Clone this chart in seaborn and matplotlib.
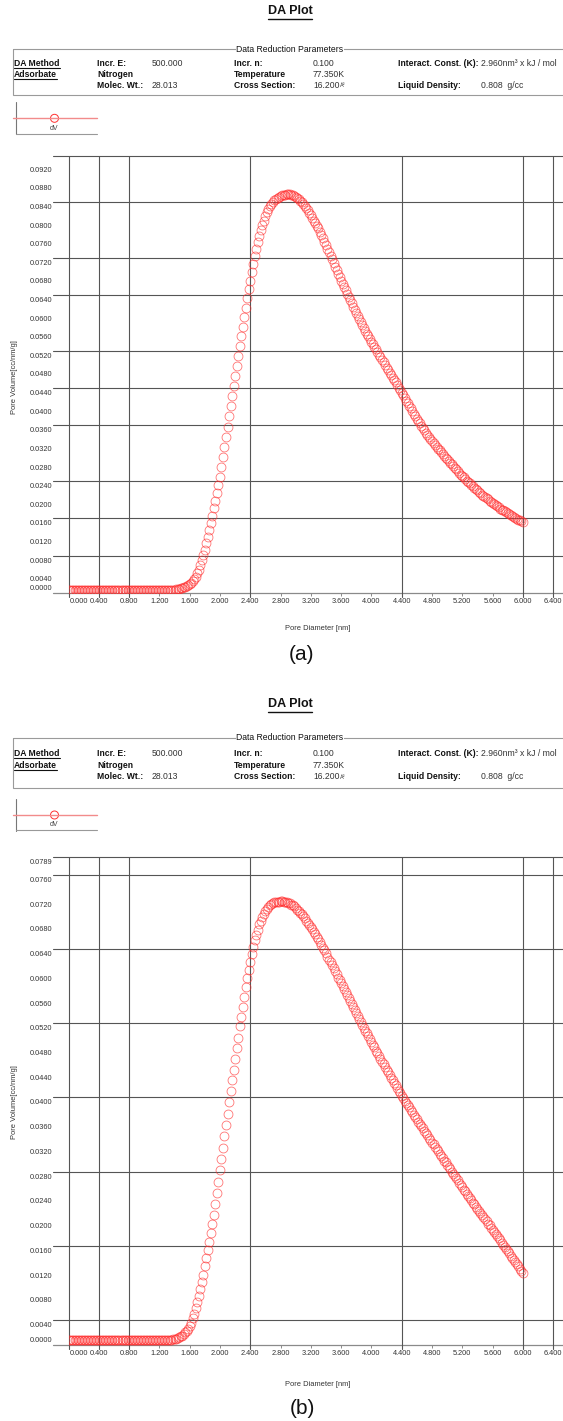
import numpy as np
import seaborn as sns
import matplotlib.pyplot as plt
from matplotlib.patches import Rectangle, Circle
from matplotlib.transforms import ScaledTranslation

# pore diameter grid of the report (nm), step 0.02
pore_step = 0.02
diam = np.round(np.arange(301) * pore_step, 2)

# dV values (a), cc/nm/g, one row = 0.2 nm
dv_a = [
    0.0007, 0.0007, 0.0007, 0.0007, 0.0007, 0.0007, 0.0007, 0.0007, 0.0007, 0.0007,
    0.0007, 0.0007, 0.0007, 0.0007, 0.0007, 0.0007, 0.0007, 0.0007, 0.0007, 0.0007,
    0.0007, 0.0007, 0.0007, 0.0007, 0.0007, 0.0007, 0.0007, 0.0007, 0.0007, 0.0007,
    0.0007, 0.0007, 0.0007, 0.0007, 0.0007, 0.0007, 0.0007, 0.0007, 0.0007, 0.0007,
    0.0007, 0.0007, 0.0007, 0.0007, 0.0007, 0.0007, 0.0007, 0.0007, 0.0007, 0.0007,
    0.0007, 0.0007, 0.0007, 0.0007, 0.0007, 0.0007, 0.0007, 0.0007, 0.0007, 0.0007,
    0.0007, 0.0007, 0.0007, 0.0007, 0.0007, 0.0007, 0.0007, 0.0007, 0.0007, 0.0007,
    0.0007, 0.0008, 0.0008, 0.0009, 0.0010, 0.0011, 0.0012, 0.0013, 0.0015, 0.0017,
    0.0019, 0.0022, 0.0026, 0.0030, 0.0035, 0.0042, 0.0050, 0.0059, 0.0070, 0.0081,
    0.0093, 0.0106, 0.0119, 0.0134, 0.0150, 0.0166, 0.0182, 0.0198, 0.0215, 0.0232,
    0.0249, 0.0270, 0.0291, 0.0313, 0.0335, 0.0357, 0.0379, 0.0401, 0.0423, 0.0444,
    0.0466, 0.0488, 0.0509, 0.0530, 0.0551, 0.0572, 0.0592, 0.0613, 0.0633, 0.0652,
    0.0671, 0.0689, 0.0707, 0.0723, 0.0738, 0.0753, 0.0766, 0.0779, 0.0790, 0.0800,
    0.0810, 0.0818, 0.0825, 0.0831, 0.0836, 0.0840, 0.0844, 0.0847, 0.0849, 0.0851,
    0.0853, 0.0854, 0.0855, 0.0855, 0.0856, 0.0856, 0.0856, 0.0855, 0.0854, 0.0853,
    0.0851, 0.0849, 0.0846, 0.0843, 0.0840, 0.0836, 0.0831, 0.0827, 0.0822, 0.0817,
    0.0812, 0.0806, 0.0800, 0.0795, 0.0789, 0.0783, 0.0776, 0.0769, 0.0762, 0.0754,
    0.0747, 0.0739, 0.0732, 0.0724, 0.0717, 0.0709, 0.0701, 0.0694, 0.0686, 0.0679,
    0.0671, 0.0664, 0.0657, 0.0650, 0.0643, 0.0636, 0.0629, 0.0622, 0.0615, 0.0608,
    0.0602, 0.0595, 0.0588, 0.0582, 0.0575, 0.0569, 0.0563, 0.0557, 0.0551, 0.0546,
    0.0540, 0.0534, 0.0528, 0.0523, 0.0517, 0.0512, 0.0506, 0.0501, 0.0495, 0.0490,
    0.0484, 0.0479, 0.0473, 0.0468, 0.0462, 0.0457, 0.0452, 0.0446, 0.0441, 0.0436,
    0.0430, 0.0425, 0.0419, 0.0413, 0.0408, 0.0402, 0.0397, 0.0391, 0.0385, 0.0380,
    0.0374, 0.0369, 0.0364, 0.0359, 0.0354, 0.0349, 0.0344, 0.0340, 0.0335, 0.0331,
    0.0327, 0.0322, 0.0318, 0.0314, 0.0310, 0.0306, 0.0302, 0.0298, 0.0294, 0.0290,
    0.0287, 0.0283, 0.0279, 0.0276, 0.0272, 0.0268, 0.0265, 0.0261, 0.0258, 0.0254,
    0.0251, 0.0248, 0.0244, 0.0241, 0.0238, 0.0235, 0.0232, 0.0229, 0.0226, 0.0223,
    0.0220, 0.0217, 0.0214, 0.0211, 0.0209, 0.0206, 0.0203, 0.0201, 0.0198, 0.0196,
    0.0193, 0.0191, 0.0188, 0.0186, 0.0184, 0.0181, 0.0179, 0.0177, 0.0175, 0.0173,
    0.0171, 0.0169, 0.0167, 0.0165, 0.0163, 0.0161, 0.0159, 0.0157, 0.0156, 0.0154,
    0.0152,
]

# dV values (b)
dv_b = [
    0.0007, 0.0007, 0.0007, 0.0007, 0.0007, 0.0007, 0.0007, 0.0007, 0.0007, 0.0007,
    0.0007, 0.0007, 0.0007, 0.0007, 0.0007, 0.0007, 0.0007, 0.0007, 0.0007, 0.0007,
    0.0007, 0.0007, 0.0007, 0.0007, 0.0007, 0.0007, 0.0007, 0.0007, 0.0007, 0.0007,
    0.0007, 0.0007, 0.0007, 0.0007, 0.0007, 0.0007, 0.0007, 0.0007, 0.0007, 0.0007,
    0.0007, 0.0007, 0.0007, 0.0007, 0.0007, 0.0007, 0.0007, 0.0007, 0.0007, 0.0007,
    0.0007, 0.0007, 0.0007, 0.0007, 0.0007, 0.0007, 0.0007, 0.0007, 0.0007, 0.0007,
    0.0007, 0.0007, 0.0007, 0.0007, 0.0007, 0.0007, 0.0007, 0.0008, 0.0008, 0.0009,
    0.0010, 0.0010, 0.0011, 0.0012, 0.0014, 0.0015, 0.0017, 0.0020, 0.0023, 0.0026,
    0.0030, 0.0036, 0.0043, 0.0050, 0.0060, 0.0069, 0.0079, 0.0090, 0.0101, 0.0113,
    0.0127, 0.0140, 0.0153, 0.0167, 0.0181, 0.0195, 0.0210, 0.0227, 0.0245, 0.0263,
    0.0282, 0.0300, 0.0319, 0.0337, 0.0356, 0.0373, 0.0392, 0.0410, 0.0428, 0.0445,
    0.0463, 0.0480, 0.0497, 0.0515, 0.0531, 0.0547, 0.0563, 0.0578, 0.0593, 0.0607,
    0.0619, 0.0632, 0.0643, 0.0654, 0.0663, 0.0671, 0.0680, 0.0686, 0.0692, 0.0697,
    0.0702, 0.0705, 0.0708, 0.0711, 0.0713, 0.0714, 0.0716, 0.0717, 0.0717, 0.0717,
    0.0718, 0.0718, 0.0717, 0.0717, 0.0716, 0.0715, 0.0714, 0.0712, 0.0711, 0.0709,
    0.0707, 0.0704, 0.0702, 0.0699, 0.0696, 0.0693, 0.0690, 0.0686, 0.0683, 0.0679,
    0.0676, 0.0672, 0.0668, 0.0664, 0.0660, 0.0656, 0.0651, 0.0647, 0.0642, 0.0638,
    0.0633, 0.0628, 0.0623, 0.0619, 0.0614, 0.0609, 0.0604, 0.0599, 0.0594, 0.0590,
    0.0585, 0.0580, 0.0575, 0.0570, 0.0566, 0.0561, 0.0556, 0.0551, 0.0546, 0.0542,
    0.0537, 0.0532, 0.0527, 0.0522, 0.0518, 0.0513, 0.0508, 0.0504, 0.0499, 0.0495,
    0.0490, 0.0485, 0.0481, 0.0476, 0.0472, 0.0467, 0.0463, 0.0458, 0.0454, 0.0449,
    0.0445, 0.0441, 0.0437, 0.0432, 0.0428, 0.0424, 0.0420, 0.0416, 0.0411, 0.0407,
    0.0403, 0.0399, 0.0395, 0.0391, 0.0388, 0.0384, 0.0380, 0.0376, 0.0372, 0.0369,
    0.0365, 0.0361, 0.0357, 0.0354, 0.0350, 0.0346, 0.0342, 0.0339, 0.0335, 0.0331,
    0.0327, 0.0324, 0.0320, 0.0316, 0.0313, 0.0309, 0.0305, 0.0302, 0.0298, 0.0295,
    0.0291, 0.0287, 0.0284, 0.0280, 0.0277, 0.0273, 0.0269, 0.0266, 0.0262, 0.0259,
    0.0255, 0.0251, 0.0248, 0.0244, 0.0241, 0.0237, 0.0234, 0.0230, 0.0227, 0.0223,
    0.0220, 0.0217, 0.0213, 0.0210, 0.0206, 0.0203, 0.0200, 0.0196, 0.0193, 0.0189,
    0.0186, 0.0183, 0.0179, 0.0176, 0.0172, 0.0169, 0.0165, 0.0162, 0.0158, 0.0155,
    0.0151, 0.0148, 0.0144, 0.0141, 0.0137, 0.0134, 0.0130, 0.0127, 0.0123, 0.0120,
    0.0116,
]

# axis ticks
x_ticks = [0.0, 0.4, 0.8, 1.2, 1.6, 2.0, 2.4, 2.8, 3.2, 3.6, 4.0, 4.4, 4.8, 5.2, 5.6, 6.0, 6.4]
x_grid = [0.0, 0.4, 0.8, 2.4, 4.4, 6.0, 6.4]
y_ticks_a = [0.0000, 0.0040, 0.0080, 0.0120, 0.0160, 0.0200, 0.0240, 0.0280, 0.0320, 0.0360,
             0.0400, 0.0440, 0.0480, 0.0520, 0.0560, 0.0600, 0.0640, 0.0680, 0.0720, 0.0760,
             0.0800, 0.0840, 0.0880, 0.0920]
y_grid_a = [0.0080, 0.0160, 0.0240, 0.0360, 0.0440, 0.0520, 0.0640, 0.0720, 0.0840]
y_top_a = 0.0938
y_ticks_b = [0.0000, 0.0040, 0.0080, 0.0120, 0.0160, 0.0200, 0.0240, 0.0280, 0.0320, 0.0360,
             0.0400, 0.0440, 0.0480, 0.0520, 0.0560, 0.0600, 0.0640, 0.0680, 0.0720, 0.0760,
             0.0789]
y_grid_b = [0.0040, 0.0160, 0.0280, 0.0400, 0.0520, 0.0640, 0.0760]
y_top_b = 0.0789

W, H = 563, 1421
sns.set_style('white')
plt.rcParams['font.family'] = ['Liberation Sans', 'DejaVu Sans']

fig = plt.figure(figsize=(W / 100, H / 100), dpi=100)
bg = fig.add_axes([0, 0, 1, 1])
bg.set_xlim(0, W)
bg.set_ylim(H, 0)
bg.axis('off')
renderer = fig.canvas.get_renderer()


def txt(x, y, s, bold=False, size=6.2, ha='left', color='#111111', **kw):
    return bg.text(x, y, s, fontsize=size, fontweight='bold' if bold else 'normal',
                   ha=ha, va='center', color=color, **kw)


def underline(t, dy=1.0, lw=0.8):
    bb = t.get_window_extent(renderer=renderer)
    bg.plot([bb.x0, bb.x1], [H - bb.y0 + dy] * 2, color='#111111', lw=lw)


def header(title_y, box_top, box_bot, rows, leg_y):
    t = txt(290, title_y, 'DA Plot', bold=True, size=9, ha='center')
    underline(t, 1.5, 1.0)
    bg.add_patch(Rectangle((13, box_top), 600, box_bot - box_top, fill=False,
                           edgecolor='#9a9a9a', lw=0.8))
    txt(290, box_top, 'Data Reduction Parameters', size=6.2, ha='center',
        bbox=dict(facecolor='white', edgecolor='none', pad=0.5))
    r0, r1, r2 = rows
    underline(txt(14, r0, 'DA Method', bold=True), 0.3)
    underline(txt(14, r1, 'Adsorbate', bold=True), 0.3)
    txt(97, r0, 'Incr. E:', bold=True)
    txt(152, r0, '500.000', color='#333333')
    txt(97, r1, 'Nitrogen', bold=True)
    txt(97, r2, 'Molec. Wt.:', bold=True)
    txt(152, r2, '28.013', color='#333333')
    txt(234, r0, 'Incr. n:', bold=True)
    txt(313, r0, '0.100', color='#333333')
    txt(234, r1, 'Temperature', bold=True)
    txt(313, r1, '77.350K', color='#333333')
    txt(234, r2, 'Cross Section:', bold=True)
    txt(313, r2, '16.200', color='#333333')
    txt(340, r2 + 0.5, 'Å²', size=4, color='#333333')
    txt(398, r0, 'Interact. Const. (K):', bold=True)
    txt(481, r0, '2.960nm³ x kJ / mol', color='#333333')
    txt(398, r2, 'Liquid Density:', bold=True)
    txt(481, r2, '0.808  g/cc', color='#333333')
    # legend box
    bg.plot([15.7, 15.7], [leg_y - 16, leg_y + 16], color='#777777', lw=0.8)
    bg.plot([15.7, 97], [leg_y + 15.2] * 2, color='#999999', lw=0.8)
    bg.plot([13, 97], [leg_y, leg_y], color='#f28b8b', lw=1.0)
    bg.add_patch(Circle((54.5, leg_y), 4, fill=False, edgecolor='#ff3030', lw=0.7))
    txt(54.5, leg_y + 10, 'dV', size=5, ha='center', color='#444444')


def panel(rect, dv, y_ticks, y_grid, y_top, ylab_y, xlab_y, tag, tag_y):
    ax = fig.add_axes(rect)
    sns.lineplot(x=diam, y=dv, ax=ax, sort=False, estimator=None,
                 linestyle='', marker='o', markersize=6.4,
                 markerfacecolor='none', markeredgecolor='#ff2a2a',
                 markeredgewidth=0.6, alpha=0.65, zorder=5)
    ax.set_xlim(0, 6.53)
    ax.set_ylim(0, y_top)
    for s in ax.spines.values():
        s.set_visible(False)
    ax.set_xlabel('')
    ax.set_ylabel('')
    ax.set_xticks(x_ticks)
    ax.set_xticklabels([f'{v:.3f}' for v in x_ticks])
    ax.set_yticks(y_ticks)
    ax.set_yticklabels([f'{v:.4f}' for v in y_ticks])
    ax.tick_params(axis='x', bottom=True, length=2.5, width=0.6, color='#777777',
                   pad=1.2, labelsize=5.3, labelcolor='#333333')
    ax.tick_params(axis='y', left=False, length=0, pad=11.8, labelsize=5.3,
                   labelcolor='#333333')
    for i, lab in enumerate(ax.get_yticklabels()):
        dy = 5 if i == 0 else -4.5
        lab.set_transform(lab.get_transform() + ScaledTranslation(0, dy / 100, fig.dpi_scale_trans))
    first = ax.get_xticklabels()[0]
    first.set_transform(first.get_transform() + ScaledTranslation(10 / 100, 0, fig.dpi_scale_trans))

    ax_w = rect[2] * W
    ax_h = rect[3] * H
    ext = -15.5 / ax_w
    for g in y_grid + [y_top]:
        ax.axhline(g, xmin=ext, xmax=1, color='#555555', lw=0.8, clip_on=False, zorder=1)
    ax.axhline(0, xmin=ext, xmax=1, color='#8a8a8a', lw=0.9, clip_on=False, zorder=1)
    for v in x_grid:
        ax.axvline(v, ymin=-4 / ax_h, ymax=1, color='#555555', lw=0.8, clip_on=False, zorder=1)

    txt(15, ylab_y, 'Pore Volume[cc/nm/g]', size=5.4, ha='center', rotation=90, color='#333333')
    txt(318, xlab_y, 'Pore Diameter [nm]', size=5.4, ha='center', color='#333333')
    txt(302, tag_y, tag, size=15, ha='center')
    return ax


header(11, 49, 94.5, [63.3, 74.3, 85.3], 118.3)
panel([68.5 / W, 1 - 592.8 / H, 494.5 / W, (592.8 - 156.3) / H],
      dv_a, y_ticks_a, y_grid_a, y_top_a, 377, 628, '(a)', 654)

header(704, 738, 788, [753, 765, 776.7], 815)
panel([68.5 / W, 1 - 1344.8 / H, 494.5 / W, (1344.8 - 857) / H],
      dv_b, y_ticks_b, y_grid_b, y_top_b, 1102, 1385, '(b)', 1408)

fig.savefig('out.png', dpi=100)
